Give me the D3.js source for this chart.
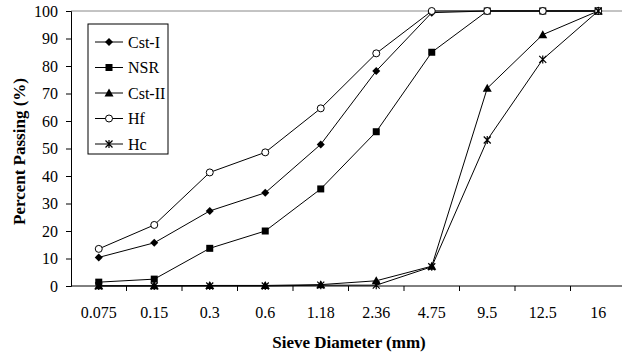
<!DOCTYPE html>
<html>
<head>
<meta charset="utf-8">
<script src="https://cdn.jsdelivr.net/npm/d3@7"></script>
<style>
  body { margin: 0; background: #fff; }
  text { font-family: "Liberation Serif", "Times New Roman", serif; fill: #000; }
</style>
</head>
<body>
<svg id="root" width="622" height="356"></svg>
<script>
const sieves = ['0.075', '0.15', '0.3', '0.6', '1.18', '2.36', '4.75', '9.5', '12.5', '16'];
const yTicks = [0, 10, 20, 30, 40, 50, 60, 70, 80, 90, 100];

const cstI  = [10.4, 15.7, 27.3, 33.9, 51.5, 78.2, 99.4, 100, 100, 100];
const nsr   = [1.4, 2.5, 13.7, 20.0, 35.3, 56.1, 85.0, 100, 100, 100];
const cstII = [0.1, 0.1, 0.2, 0.2, 0.5, 1.9, 7.2, 71.9, 91.4, 100];
const hf    = [13.5, 22.2, 41.3, 48.6, 64.6, 84.6, 100, 100, 100, 100];
const hc    = [0, 0, 0, 0, 0.3, 0.3, 7.0, 53.1, 82.4, 100];

const seriesNames = ['Cst-I', 'NSR', 'Cst-II', 'Hf', 'Hc'];
const seriesVals = [cstI, nsr, cstII, hf, hc];
const markers = ['diamond', 'square', 'triangle', 'circle', 'star'];

const margin = { left: 71, top: 11, bottom: 70 };
const plotW = 555;
const plotH = 356 - margin.top - margin.bottom;

const x = d3.scaleBand().domain(sieves).range([margin.left, margin.left + plotW]);
const y = d3.scaleLinear().domain([0, 100]).range([margin.top + plotH, margin.top]);

const svg = d3.select('#root');

// top border of plot area
svg.append('line')
    .attr('x1', margin.left).attr('x2', 622)
    .attr('y1', y(100)).attr('y2', y(100))
    .attr('stroke', '#888').attr('stroke-width', 1);

// y axis
const gy = svg.append('g')
    .attr('transform', `translate(${margin.left},0)`)
    .call(d3.axisLeft(y).tickValues(yTicks).tickSize(5).tickPadding(8));
gy.selectAll('text').style('font-size', '16px').style('font-family', '"Liberation Serif", serif');
gy.select('.domain').attr('stroke', '#000');

// x axis: ticks at band boundaries
const gx = svg.append('g')
    .attr('transform', `translate(0,${y(0)})`);
gx.append('line')
    .attr('x1', margin.left).attr('x2', 622)
    .attr('stroke', '#000');
gx.selectAll('.tk')
    .data(sieves.slice(1))
    .enter().append('line')
    .attr('x1', d => x(d)).attr('x2', d => x(d))
    .attr('y1', 0).attr('y2', 5)
    .attr('stroke', '#000');
gx.selectAll('.lbl')
    .data(sieves)
    .enter().append('text')
    .attr('x', d => x(d) + x.bandwidth() / 2)
    .attr('y', 32)
    .attr('text-anchor', 'middle')
    .style('font-size', '16px')
    .text(d => d);

// axis titles
svg.append('text')
    .attr('transform', `translate(25,${(y(0) + y(100)) / 2 + 3}) rotate(-90)`)
    .attr('text-anchor', 'middle')
    .style('font-size', '17px').style('font-weight', 'bold')
    .text('Percent Passing (%)');
svg.append('text')
    .attr('x', 349).attr('y', 348)
    .attr('text-anchor', 'middle')
    .style('font-size', '17px').style('font-weight', 'bold')
    .text('Sieve Diameter (mm)');

function drawMarker(g, type) {
    if (type === 'diamond') {
        g.append('path').attr('d', 'M0,-4L4,0L0,4L-4,0Z').attr('fill', '#000');
    } else if (type === 'square') {
        g.append('rect').attr('x', -3.5).attr('y', -3.5).attr('width', 7).attr('height', 7).attr('fill', '#000');
    } else if (type === 'triangle') {
        g.append('path').attr('d', 'M0,-4.5L4.5,3.5L-4.5,3.5Z').attr('fill', '#000');
    } else if (type === 'circle') {
        g.append('circle').attr('r', 3.5).attr('fill', '#fff').attr('stroke', '#000').attr('stroke-width', 1);
    } else {
        g.append('path').attr('d', 'M-3.5,-3.5L3.5,3.5M-3.5,3.5L3.5,-3.5M0,-4L0,4')
            .attr('stroke', '#000').attr('stroke-width', 1.2).attr('fill', 'none');
    }
}

const line = d3.line()
    .x((d, i) => x(sieves[i]) + x.bandwidth() / 2)
    .y(d => y(d));

seriesVals.forEach((vals, s) => {
    svg.append('path')
        .datum(vals)
        .attr('d', line)
        .attr('fill', 'none')
        .attr('stroke', '#000')
        .attr('stroke-width', 1);
    vals.forEach((v, i) => {
        const g = svg.append('g')
            .attr('transform', `translate(${x(sieves[i]) + x.bandwidth() / 2},${y(v)})`);
        drawMarker(g, markers[s]);
    });
});

// legend
const lg = svg.append('g').attr('transform', 'translate(88,24)');
lg.append('rect')
    .attr('width', 80).attr('height', 130)
    .attr('fill', '#fff').attr('stroke', '#000').attr('stroke-width', 1);
seriesNames.forEach((name, i) => {
    const yy = 18 + i * 25.5;
    lg.append('line')
        .attr('x1', 7).attr('x2', 35).attr('y1', yy).attr('y2', yy)
        .attr('stroke', '#000');
    const g = lg.append('g').attr('transform', `translate(21,${yy})`);
    drawMarker(g, markers[i]);
    lg.append('text')
        .attr('x', 40).attr('y', yy + 5.5)
        .style('font-size', '16px')
        .text(name);
});
</script>
</body>
</html>
